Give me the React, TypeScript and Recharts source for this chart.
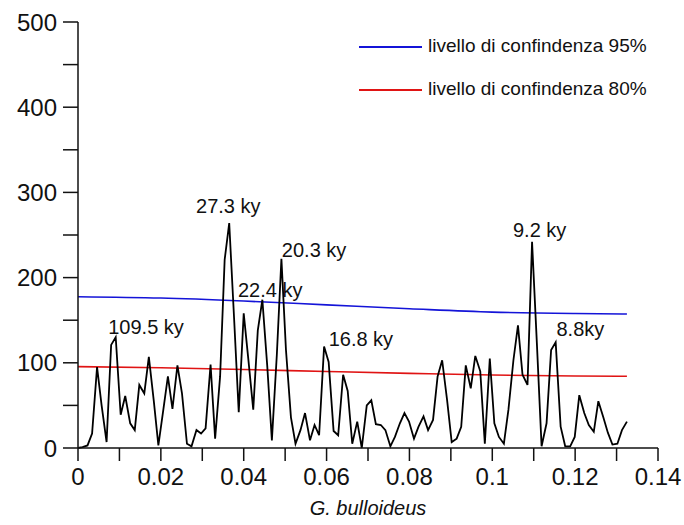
import { LineChart, Line, XAxis, YAxis, ReferenceDot } from "recharts";

// frequenza (1/ky) e potenza spettrale, G. bulloideus
const freq = [
  0, 0.0011, 0.0023, 0.0034, 0.0046, 0.0057, 0.0069, 0.008, 0.0091, 0.0103,
  0.0114, 0.0126, 0.0137, 0.0148, 0.016, 0.0171, 0.0183, 0.0194, 0.0206, 0.0217,
  0.0228, 0.024, 0.0251, 0.0263, 0.0274, 0.0286, 0.0297, 0.0308, 0.032, 0.0331,
  0.0343, 0.0354, 0.0365, 0.0377, 0.0388, 0.04, 0.0411, 0.0423, 0.0434, 0.0445,
  0.0457, 0.0468, 0.048, 0.0491, 0.0502, 0.0514, 0.0525, 0.0537, 0.0548, 0.056,
  0.0571, 0.0582, 0.0594, 0.0605, 0.0617, 0.0628, 0.064, 0.0651, 0.0662, 0.0674,
  0.0685, 0.0697, 0.0708, 0.0719, 0.0731, 0.0742, 0.0754, 0.0765, 0.0777, 0.0788,
  0.0799, 0.0811, 0.0822, 0.0834, 0.0845, 0.0857, 0.0868, 0.0879, 0.0891, 0.0902,
  0.0914, 0.0925, 0.0936, 0.0948, 0.0959, 0.0971, 0.0982, 0.0994, 0.1005, 0.1016,
  0.1028, 0.1039, 0.1051, 0.1062, 0.1073, 0.1085, 0.1096, 0.1108, 0.1119, 0.1131,
  0.1142, 0.1153, 0.1165, 0.1176, 0.1188, 0.1199, 0.121, 0.1222, 0.1233, 0.1245,
  0.1256, 0.1268, 0.1279, 0.129, 0.1302, 0.1313, 0.1325,
];
const power = [
  0, 1, 3, 17, 95, 50, 7, 121, 130, 39,
  61, 29, 21, 74, 64, 107, 55, 3, 45, 84,
  46, 97, 64, 5, 2, 21, 17, 23, 98, 11,
  84, 221, 264, 150, 42, 158, 105, 45, 138, 174,
  95, 9, 110, 222, 115, 36, 5, 21, 41, 9,
  27, 15, 119, 101, 20, 15, 86, 67, 5, 31,
  0, 50, 56, 28, 27, 21, 2, 13, 29, 41,
  31, 11, 25, 37, 21, 33, 84, 103, 56, 7,
  11, 25, 97, 70, 108, 90, 5, 105, 29, 13,
  5, 45, 103, 144, 86, 74, 242, 119, 2, 29,
  115, 124, 25, 2, 2, 13, 62, 41, 27, 19,
  55, 36, 18, 4, 5, 21, 31,
];

// livelli di confidenza
const confFreq = [0, 0.02, 0.04, 0.06, 0.08, 0.1, 0.12, 0.1325];
const conf95 = [177.6, 176, 172.5, 168, 163.5, 159.5, 157.8, 157.3];
const conf80 = [95.5, 94.2, 92.2, 89.8, 87.6, 85.6, 84.5, 84.2];

// etichette dei picchi
const peakNames = ["109.5 ky", "27.3 ky", "22.4 ky", "20.3 ky", "16.8 ky", "9.2 ky", "8.8ky"];
const peakX = [0.0073, 0.0285, 0.0386, 0.0492, 0.0605, 0.105, 0.1155];
const peakY = [134, 276, 177, 224, 120, 248, 131];

const xTicks = [0, 0.01, 0.02, 0.03, 0.04, 0.05, 0.06, 0.07, 0.08, 0.09, 0.1, 0.11, 0.12, 0.13, 0.14];
const yTicks = [0, 50, 100, 150, 200, 250, 300, 350, 400, 450, 500];

const FONT = "'Liberation Sans', Arial, sans-serif";

const spectrum = freq.map((f, i) => ({ f, p: power[i] }));
const line95 = confFreq.map((f, i) => ({ f, v: conf95[i] }));
const line80 = confFreq.map((f, i) => ({ f, v: conf80[i] }));

const fmtX = (v: number) => (Math.round(v * 100) % 2 === 0 ? String(+v.toFixed(2)) : "");
const fmtY = (v: number) => (v % 100 === 0 ? String(v) : "");

export default function App() {
  return (
    <div style={{ position: "absolute", left: 0, top: 0, width: 684, height: 525, background: "#fff", fontFamily: FONT }}>
      <LineChart width={684} height={525} margin={{ top: 22, right: 26, bottom: 0, left: 0 }}>
        <XAxis
          dataKey="f"
          type="number"
          domain={[0, 0.14]}
          ticks={xTicks}
          interval={0}
          tickFormatter={fmtX}
          height={77}
          tickSize={13}
          tickMargin={7}
          axisLine={{ stroke: "#111", strokeWidth: 1.5 }}
          tickLine={{ stroke: "#111", strokeWidth: 1.5 }}
          tick={{ fill: "#111", fontSize: 24, fontFamily: FONT }}
          label={{
            value: "G. bulloideus",
            position: "insideBottom",
            offset: 10,
            fill: "#111",
            fontSize: 20,
            fontStyle: "italic",
            fontFamily: FONT,
          }}
        />
        <YAxis
          type="number"
          domain={[0, 500]}
          ticks={yTicks}
          interval={0}
          tickFormatter={fmtY}
          width={78}
          tickSize={15}
          tickMargin={6}
          axisLine={{ stroke: "#111", strokeWidth: 1.5 }}
          tickLine={{ stroke: "#111", strokeWidth: 1.5 }}
          tick={{ fill: "#111", fontSize: 24, fontFamily: FONT }}
        />
        <Line data={line95} dataKey="v" type="monotone" stroke="#1414d8" strokeWidth={1.6} dot={false} isAnimationActive={false} />
        <Line data={line80} dataKey="v" type="monotone" stroke="#e01414" strokeWidth={1.6} dot={false} isAnimationActive={false} />
        <Line data={spectrum} dataKey="p" type="linear" stroke="#000" strokeWidth={1.8} dot={false} isAnimationActive={false} />
        {peakNames.map((name, i) => (
          <ReferenceDot
            key={name}
            x={peakX[i]}
            y={peakY[i]}
            r={0}
            shape={(p: any) => (
              <text x={p.cx} y={p.cy} fontSize={20} fontFamily={FONT} fill="#111">
                {name}
              </text>
            )}
          />
        ))}
      </LineChart>
      {[
        { color: "#1414d8", text: "livello di confindenza 95%", top: 47 },
        { color: "#e01414", text: "livello di confindenza 80%", top: 90 },
      ].map((l) => (
        <div key={l.text}>
          <div style={{ position: "absolute", left: 359, top: l.top - 1, width: 63, height: 2, background: l.color }} />
          <div style={{ position: "absolute", left: 428, top: l.top - 12, fontSize: 19, lineHeight: "22px", color: "#111", whiteSpace: "nowrap" }}>
            {l.text}
          </div>
        </div>
      ))}
    </div>
  );
}
